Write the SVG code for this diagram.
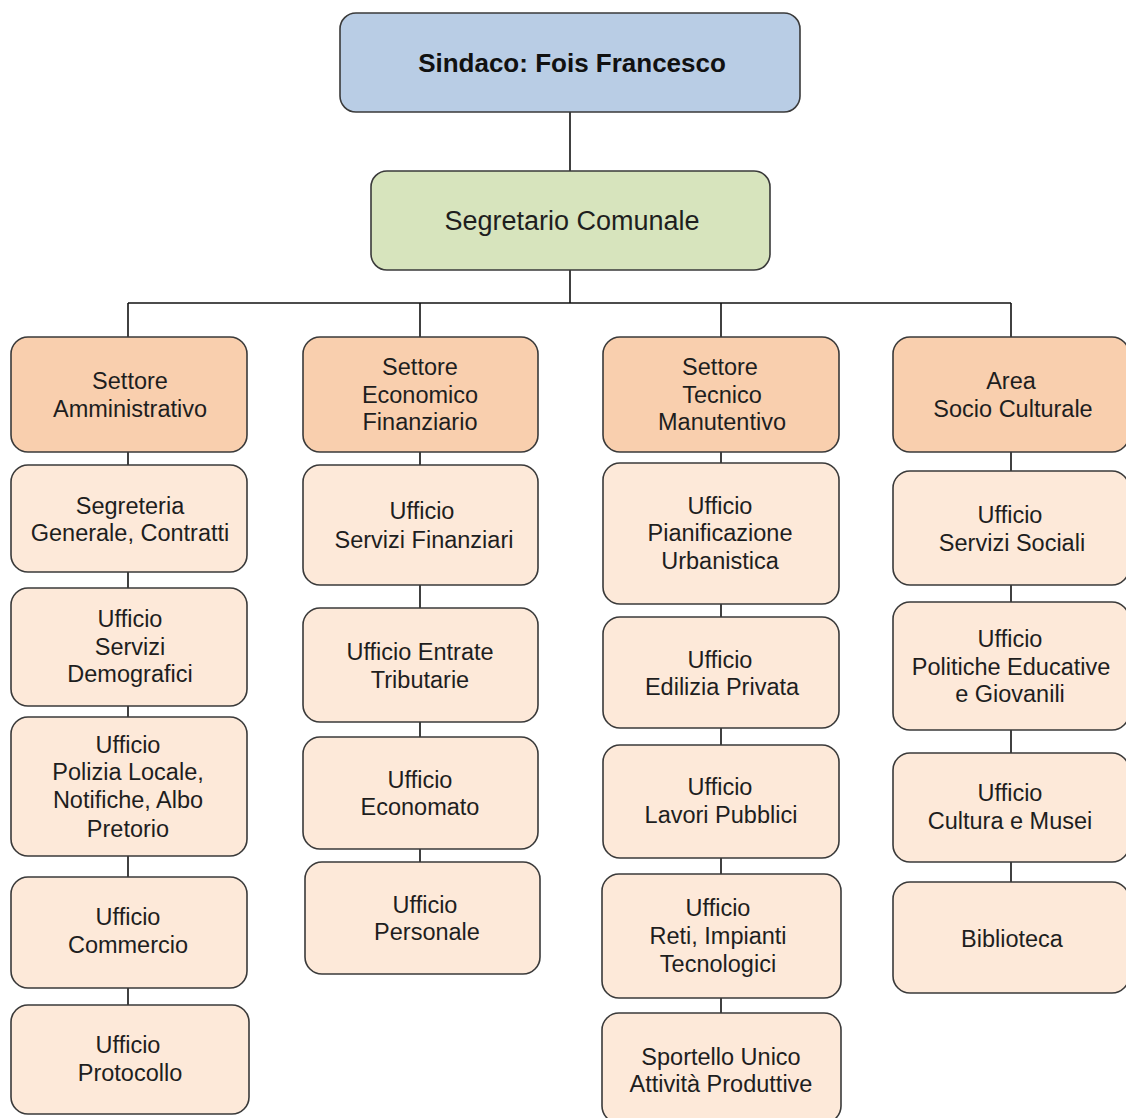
<svg xmlns="http://www.w3.org/2000/svg" width="1126" height="1118" viewBox="0 0 1126 1118">
<style>
.box{stroke:#3a3a3a;stroke-width:1.6}
.top{fill:#b9cde5}
.sec{fill:#d7e4bd}
.head{fill:#f9cfae}
.off{fill:#fde9d9}
text{font-family:"Liberation Sans",Arial,sans-serif;font-size:23.5px;fill:#1e1e1e;text-anchor:middle}
.b{font-weight:bold;font-size:26px;fill:#111}
.s{font-size:27px}
.conn line{stroke:#111;stroke-width:1.6}
</style>
<rect width="1126" height="1118" fill="#ffffff"/>
<g class="conn" id="connectors">
<line x1="570" y1="112" x2="570" y2="171"/>
<line x1="570" y1="270" x2="570" y2="303"/>
<line x1="128" y1="303" x2="1011" y2="303"/>
<line x1="128" y1="303" x2="128" y2="337"/>
<line x1="420" y1="303" x2="420" y2="337"/>
<line x1="721" y1="303" x2="721" y2="337"/>
<line x1="1011" y1="303" x2="1011" y2="337"/>
<line x1="128" y1="452" x2="128" y2="1005"/>
<line x1="420" y1="452" x2="420" y2="862"/>
<line x1="721" y1="452" x2="721" y2="1013"/>
<line x1="1011" y1="452" x2="1011" y2="882"/>
</g>
<g id="sindaco"><rect class="box top" x="340" y="13" width="460" height="99" rx="16"/><text class="b" x="572" y="72">Sindaco: Fois Francesco</text></g>
<g id="segretario"><rect class="box sec" x="371" y="171" width="399" height="99" rx="16"/><text class="s" x="572" y="230">Segretario Comunale</text></g>

<g id="settore-amm"><rect class="box head" x="11" y="337" width="236" height="115" rx="17"/><text x="130" y="389">Settore</text><text x="130" y="417">Amministrativo</text></g>
<g id="segreteria"><rect class="box off" x="11" y="465" width="236" height="107" rx="17"/><text x="130" y="514">Segreteria</text><text x="130" y="541">Generale,  Contratti</text></g>
<g id="demografici"><rect class="box off" x="11" y="588" width="236" height="118" rx="17"/><text x="130" y="627">Ufficio</text><text x="130" y="655">Servizi</text><text x="130" y="682">Demografici</text></g>
<g id="polizia"><rect class="box off" x="11" y="717" width="236" height="139" rx="17"/><text x="128" y="753">Ufficio</text><text x="128" y="780">Polizia Locale,</text><text x="128" y="808">Notifiche, Albo</text><text x="128" y="837">Pretorio</text></g>
<g id="commercio"><rect class="box off" x="11" y="877" width="236" height="111" rx="17"/><text x="128" y="925">Ufficio</text><text x="128" y="953">Commercio</text></g>
<g id="protocollo"><rect class="box off" x="11" y="1005" width="238" height="109" rx="17"/><text x="128" y="1053">Ufficio</text><text x="130" y="1081">Protocollo</text></g>

<g id="settore-eco"><rect class="box head" x="303" y="337" width="235" height="115" rx="17"/><text x="420" y="375">Settore</text><text x="420" y="403">Economico</text><text x="420" y="430">Finanziario</text></g>
<g id="finanziari"><rect class="box off" x="303" y="465" width="235" height="120" rx="17"/><text x="422" y="519">Ufficio</text><text x="424" y="548">Servizi Finanziari</text></g>
<g id="entrate"><rect class="box off" x="303" y="608" width="235" height="114" rx="17"/><text x="420" y="660">Ufficio Entrate</text><text x="420" y="688">Tributarie</text></g>
<g id="economato"><rect class="box off" x="303" y="737" width="235" height="112" rx="17"/><text x="420" y="788">Ufficio</text><text x="420" y="815">Economato</text></g>
<g id="personale"><rect class="box off" x="305" y="862" width="235" height="112" rx="17"/><text x="425" y="913">Ufficio</text><text x="427" y="940">Personale</text></g>

<g id="settore-tec"><rect class="box head" x="603" y="337" width="236" height="115" rx="17"/><text x="720" y="375">Settore</text><text x="722" y="403">Tecnico</text><text x="722" y="430">Manutentivo</text></g>
<g id="pianificazione"><rect class="box off" x="603" y="463" width="236" height="141" rx="17"/><text x="720" y="514">Ufficio</text><text x="720" y="541">Pianificazione</text><text x="720" y="569">Urbanistica</text></g>
<g id="edilizia"><rect class="box off" x="603" y="617" width="236" height="111" rx="17"/><text x="720" y="668">Ufficio</text><text x="722" y="695">Edilizia Privata</text></g>
<g id="lavori"><rect class="box off" x="603" y="745" width="236" height="113" rx="17"/><text x="720" y="795">Ufficio</text><text x="721" y="823">Lavori Pubblici</text></g>
<g id="reti"><rect class="box off" x="602" y="874" width="239" height="124" rx="17"/><text x="718" y="916">Ufficio</text><text x="718" y="944">Reti, Impianti</text><text x="718" y="972">Tecnologici</text></g>
<g id="sportello"><rect class="box off" x="602" y="1013" width="239" height="110" rx="17"/><text x="721" y="1065">Sportello Unico</text><text x="721" y="1092">Attività Produttive</text></g>

<g id="area-socio"><rect class="box head" x="893" y="337" width="236" height="115" rx="17"/><text x="1011" y="389">Area</text><text x="1013" y="417">Socio Culturale</text></g>
<g id="sociali"><rect class="box off" x="893" y="471" width="236" height="114" rx="17"/><text x="1010" y="523">Ufficio</text><text x="1012" y="551">Servizi Sociali</text></g>
<g id="politiche"><rect class="box off" x="893" y="602" width="236" height="128" rx="17"/><text x="1010" y="647">Ufficio</text><text x="1011" y="675">Politiche Educative</text><text x="1010" y="702">e Giovanili</text></g>
<g id="cultura"><rect class="box off" x="893" y="753" width="236" height="109" rx="17"/><text x="1010" y="801">Ufficio</text><text x="1010" y="829">Cultura  e Musei</text></g>
<g id="biblioteca"><rect class="box off" x="893" y="882" width="236" height="111" rx="17"/><text x="1012" y="947">Biblioteca</text></g>
</svg>
